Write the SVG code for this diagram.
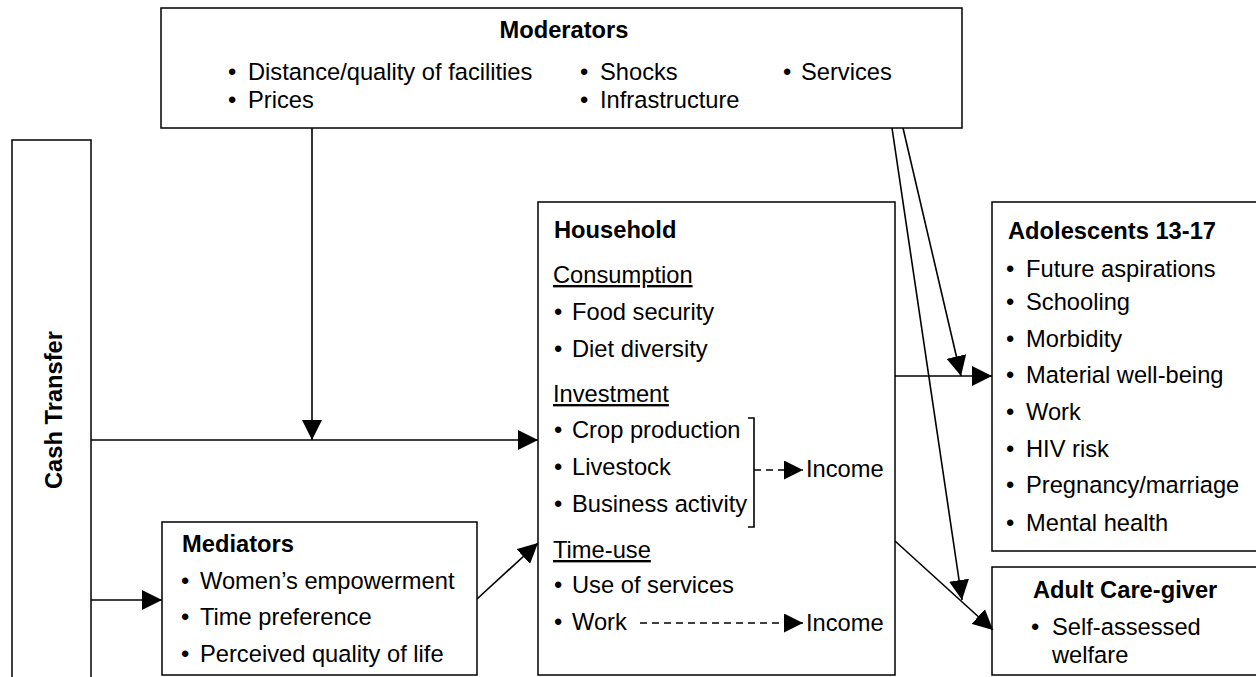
<svg xmlns="http://www.w3.org/2000/svg" width="1256" height="677" viewBox="0 0 1256 677">
<style>
.box{fill:#fff;stroke:#000;stroke-width:1.5}
.t{font-family:"Liberation Sans",Arial,Helvetica,sans-serif;font-size:23.7px;fill:#000}
.b{font-weight:bold}
.u{text-decoration:underline}
.c{fill:none;stroke:#000;stroke-width:1.6}
.d{fill:none;stroke:#000;stroke-width:1.6;stroke-dasharray:7 5}
</style>
<defs>
<marker id="ah" markerWidth="20" markerHeight="20" refX="20" refY="10" orient="auto" markerUnits="userSpaceOnUse">
<path d="M0,0 L20,10 L0,20 z" fill="#000"/>
</marker>
<marker id="ahs" markerWidth="19" markerHeight="19" refX="19" refY="9.5" orient="auto" markerUnits="userSpaceOnUse">
<path d="M0,0 L19,9.5 L0,19 z" fill="#000"/>
</marker>
</defs>
<rect width="1256" height="677" fill="#fff"/>

<g id="moderators">
<rect class="box" x="161" y="8" width="801" height="120"/>
<text class="t b" x="564" y="38" text-anchor="middle">Moderators</text>
<text class="t" x="228" y="80">•</text><text class="t" x="248" y="80">Distance/quality of facilities</text>
<text class="t" x="228" y="108">•</text><text class="t" x="248" y="108">Prices</text>
<text class="t" x="580" y="80">•</text><text class="t" x="600" y="80">Shocks</text>
<text class="t" x="580" y="108">•</text><text class="t" x="600" y="108">Infrastructure</text>
<text class="t" x="783" y="80">•</text><text class="t" x="801" y="80">Services</text>
</g>

<g id="cash-transfer">
<rect class="box" x="12" y="140" width="79" height="560"/>
<text class="t b" transform="translate(62,410) rotate(-90)" text-anchor="middle">Cash Transfer</text>
</g>

<g id="household">
<rect class="box" x="538" y="202" width="357" height="473"/>
<text class="t b" x="554" y="238">Household</text>
<text class="t u" x="553" y="283">Consumption</text>
<text class="t" x="554" y="320">•</text><text class="t" x="572" y="320">Food security</text>
<text class="t" x="554" y="357">•</text><text class="t" x="572" y="357">Diet diversity</text>
<text class="t u" x="553" y="402">Investment</text>
<text class="t" x="554" y="438">•</text><text class="t" x="572" y="438">Crop production</text>
<text class="t" x="554" y="475">•</text><text class="t" x="572" y="475">Livestock</text>
<text class="t" x="554" y="512">•</text><text class="t" x="572" y="512">Business activity</text>
<path class="c" d="M748,418 H754 V527 H748"/>
<text class="t" x="806" y="477">Income</text>
<text class="t u" x="553" y="558">Time-use</text>
<text class="t" x="554" y="593">•</text><text class="t" x="572" y="593">Use of services</text>
<text class="t" x="554" y="630">•</text><text class="t" x="572" y="630">Work</text>
<text class="t" x="806" y="631">Income</text>
</g>

<g id="mediators">
<rect class="box" x="162" y="522" width="315" height="153"/>
<text class="t b" x="182" y="552">Mediators</text>
<text class="t" x="181" y="589">•</text><text class="t" x="200" y="589">Women’s empowerment</text>
<text class="t" x="181" y="625">•</text><text class="t" x="200" y="625">Time preference</text>
<text class="t" x="181" y="662">•</text><text class="t" x="200" y="662">Perceived quality of life</text>
</g>

<g id="adolescents">
<rect class="box" x="992" y="202" width="270" height="349"/>
<text class="t b" x="1008" y="239">Adolescents 13-17</text>
<text class="t" x="1006" y="277">•</text><text class="t" x="1026" y="277">Future aspirations</text>
<text class="t" x="1006" y="310">•</text><text class="t" x="1026" y="310">Schooling</text>
<text class="t" x="1006" y="347">•</text><text class="t" x="1026" y="347">Morbidity</text>
<text class="t" x="1006" y="383">•</text><text class="t" x="1026" y="383">Material well-being</text>
<text class="t" x="1006" y="420">•</text><text class="t" x="1026" y="420">Work</text>
<text class="t" x="1006" y="457">•</text><text class="t" x="1026" y="457">HIV risk</text>
<text class="t" x="1006" y="493">•</text><text class="t" x="1026" y="493">Pregnancy/marriage</text>
<text class="t" x="1006" y="531">•</text><text class="t" x="1026" y="531">Mental health</text>
</g>

<g id="adult-caregiver">
<rect class="box" x="992" y="567" width="270" height="108"/>
<text class="t b" x="1033" y="598">Adult Care-giver</text>
<text class="t" x="1031" y="635">•</text><text class="t" x="1052" y="635">Self-assessed</text>
<text class="t" x="1052" y="663">welfare</text>
</g>

<g id="connectors">
<path class="c" d="M91,440 H538" marker-end="url(#ah)"/>
<path class="c" d="M312,128 V440" marker-end="url(#ah)"/>
<path class="c" d="M91,600 H162" marker-end="url(#ah)"/>
<path class="c" d="M477,599 L538,543" marker-end="url(#ah)"/>
<path class="c" d="M895,376 H992" marker-end="url(#ah)"/>
<path class="c" d="M903,128 L961,376" marker-end="url(#ah)"/>
<path class="c" d="M892,128 L962,600" marker-end="url(#ah)"/>
<path class="c" d="M895,541 L993,630" marker-end="url(#ah)"/>
<path class="d" d="M754,470 H803" marker-end="url(#ahs)"/>
<path class="d" d="M640,623 H803" marker-end="url(#ahs)"/>
</g>
</svg>
